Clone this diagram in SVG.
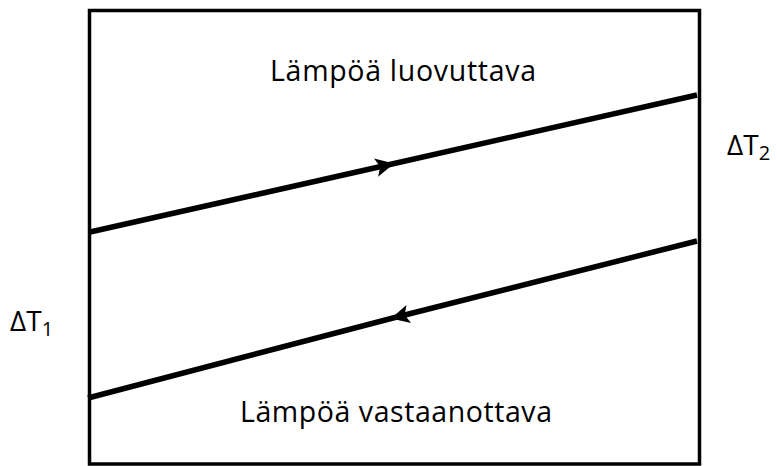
<svg xmlns="http://www.w3.org/2000/svg" width="777" height="466" viewBox="0 0 777 466">
<style>
.t{font-family:"Open Sans","Noto Sans","Liberation Sans",sans-serif;font-size:28.5px;fill:#000}
.d{font-size:28px}
.s{font-size:20px}
.ln{fill:none;stroke:#000;stroke-width:5.5}
</style>
<defs>
<marker id="ah" markerUnits="userSpaceOnUse" markerWidth="24" markerHeight="24" viewBox="-18 -10 22 20" refX="0" refY="0" orient="auto" overflow="visible">
<path d="M2,0 L-15,-8.5 L-11,0 L-15,8.5 Z" fill="#000"/>
</marker>
</defs>
<rect x="89.5" y="10.5" width="610" height="453.5" fill="#fff" stroke="#000" stroke-width="3.5"/>
<g id="connectors">
<path class="ln" d="M90,232 L392,164 L697,95" marker-mid="url(#ah)"/>
<path class="ln" d="M697,241 L393,318 L88,398" marker-mid="url(#ah)"/>
</g>
<g id="hot"><text class="t" x="270" y="81" textLength="266" lengthAdjust="spacing">Lämpöä luovuttava</text></g>
<g id="cold"><text class="t" x="240" y="422" textLength="312" lengthAdjust="spacing">Lämpöä vastaanottava</text></g>
<g id="dt2"><text class="t d" x="727" y="155">ΔT<tspan class="s" dy="5">2</tspan></text></g>
<g id="dt1"><text class="t d" x="10" y="331">ΔT<tspan class="s" dy="5">1</tspan></text></g>
</svg>
